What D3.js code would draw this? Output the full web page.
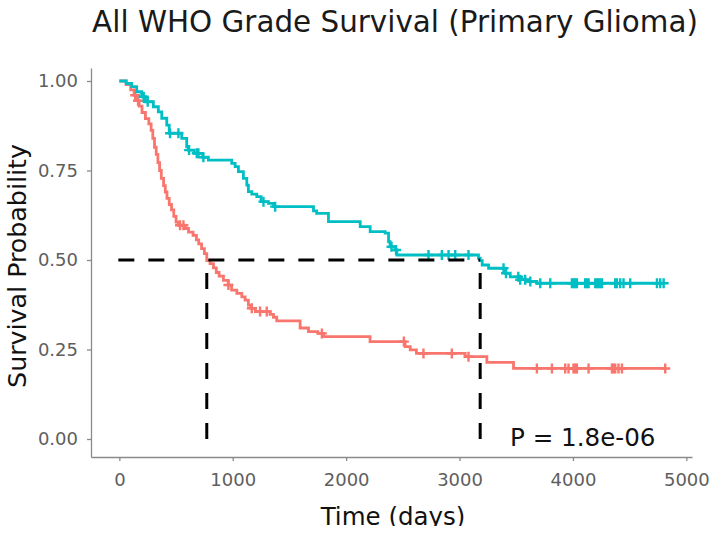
<!DOCTYPE html>
<html>
<head>
<meta charset="utf-8">
<script src="https://cdn.jsdelivr.net/npm/d3@7/dist/d3.min.js"></script>
<style>
  html, body { margin: 0; padding: 0; background: #fff; }
  svg { display: block; font-family: "DejaVu Sans", Verdana, sans-serif; }
</style>
</head>
<body>
<svg id="chart" width="722" height="534"></svg>
<script>
// Kaplan-Meier step estimates, one group per colour
const redTime = [0, 60, 100, 130, 150, 175, 200, 230, 260, 280, 295, 310, 325, 340, 355, 370, 390, 405, 420, 440,
  460, 480, 500, 520, 580, 610, 650, 680, 700, 725, 750, 771, 800, 830, 855, 880, 918, 960, 990, 1036,
  1080, 1109, 1138, 1160, 1200, 1329, 1359, 1388, 1594, 1668, 1750, 1800, 2211, 2520, 2565, 2620, 3050, 3241, 3476];
const redSurv = [1, 0.990, 0.975, 0.960, 0.945, 0.930, 0.912, 0.895, 0.880, 0.862, 0.840, 0.815, 0.795, 0.772, 0.750, 0.728, 0.708, 0.690, 0.672, 0.655,
  0.640, 0.622, 0.606, 0.597, 0.588, 0.578, 0.569, 0.556, 0.545, 0.532, 0.518, 0.498, 0.490, 0.478, 0.465, 0.455, 0.443, 0.430, 0.416, 0.407,
  0.397, 0.388, 0.374, 0.365, 0.356, 0.348, 0.340, 0.330, 0.310, 0.300, 0.295, 0.286, 0.272, 0.258, 0.249, 0.239, 0.230, 0.214, 0.197];
const redEnd = 4814;
const redCensor = [140, 165, 535, 565, 962, 1168, 1241, 1300, 1786, 2509, 2682, 2932, 3079, 3682, 3815, 3932, 3961, 4005,
  4020, 4035, 4138, 4344, 4358, 4373, 4402, 4432, 4814];

const tealTime = [0, 60, 109, 153, 197, 230, 300, 344, 374, 418, 440, 550, 594, 609, 660, 735, 785, 991, 1021, 1050,
  1094, 1124, 1138, 1168, 1212, 1250, 1315, 1360, 1712, 1740, 1844, 2124, 2212, 2344, 2374, 2388, 2432, 2447, 3167, 3182,
  3200, 3256, 3403, 3447, 3530, 3600, 3682];
const tealSurv = [1, 0.993, 0.984, 0.970, 0.956, 0.942, 0.928, 0.914, 0.896, 0.877, 0.854, 0.840, 0.816, 0.807, 0.798, 0.787, 0.779, 0.770, 0.761, 0.747,
  0.728, 0.709, 0.691, 0.684, 0.677, 0.663, 0.658, 0.649, 0.637, 0.630, 0.607, 0.593, 0.579, 0.575, 0.551, 0.537, 0.528, 0.514, 0.505, 0.498,
  0.486, 0.477, 0.463, 0.453, 0.445, 0.440, 0.435];
const tealEnd = 4800;
const tealCensor = [215, 250, 447, 521, 615, 683, 697, 741, 1271, 1374, 2400, 2440, 2726, 2844, 2903, 2962, 3079, 3388, 3410,
  3518, 3535, 3579, 3624, 3712, 3800, 3991, 4005, 4020, 4035, 4108, 4123, 4138, 4197, 4211, 4226, 4241, 4256,
  4373, 4388, 4417, 4446, 4505, 4741, 4770, 4800];

// median survival times (where each curve crosses 0.5)
const medianTimes = [771, 3182];
const medianLevel = 0.5;

const xTicks = [0, 1000, 2000, 3000, 4000, 5000];
const yTicks = [0, 0.25, 0.5, 0.75, 1];

const titleText = "All WHO Grade Survival (Primary Glioma)";
const xTitle = "Time (days)";
const yTitle = "Survival Probability";
const pText = "P = 1.8e-06";

const groups = [
  { time: redTime, surv: redSurv, end: redEnd, censor: redCensor, color: "#F8766D" },
  { time: tealTime, surv: tealSurv, end: tealEnd, censor: tealCensor, color: "#00BFC4" }
];

const svg = d3.select("#chart");

const x = d3.scaleLinear().domain([-250, 5050]).range([91, 692]);
const y = d3.scaleLinear().domain([-0.0503, 1.0363]).range([457, 68]);

// title
svg.append("text")
  .attr("x", 395).attr("y", 32)
  .attr("text-anchor", "middle")
  .attr("font-size", 29.4)
  .attr("fill", "#1a1a1a")
  .text(titleText);

// axes
const axisColor = "#8a8a8a";
const tickTextColor = "#5e5e5e";

const xAxis = svg.append("g")
  .attr("transform", `translate(0,${y.range()[0]})`)
  .call(d3.axisBottom(x).tickValues(xTicks).tickSize(4).tickSizeOuter(0).tickPadding(12).tickFormat(d3.format("d")));
const yAxis = svg.append("g")
  .attr("transform", `translate(${x.range()[0]},0)`)
  .call(d3.axisLeft(y).tickValues(yTicks).tickSize(4).tickSizeOuter(0).tickPadding(9).tickFormat(d3.format(".2f")));

[xAxis, yAxis].forEach(g => {
  g.select(".domain").attr("stroke", axisColor).attr("stroke-width", 1.3);
  g.selectAll(".tick line").attr("stroke", axisColor).attr("stroke-width", 1.3);
  g.selectAll(".tick text").attr("fill", tickTextColor).attr("font-size", 18)
    .attr("font-family", "'DejaVu Sans', Verdana, sans-serif");
});

// axis titles (x title sits at the bottom edge and is cut by it)
svg.append("clipPath").attr("id", "bottomClip")
  .append("rect").attr("x", 0).attr("y", 0).attr("width", 722).attr("height", 526);

svg.append("text")
  .attr("clip-path", "url(#bottomClip)")
  .attr("x", 393).attr("y", 525)
  .attr("text-anchor", "middle")
  .attr("font-size", 24.5)
  .attr("fill", "#111")
  .text(xTitle);

svg.append("text")
  .attr("transform", `translate(26,${266}) rotate(-90)`)
  .attr("text-anchor", "middle")
  .attr("font-size", 25.3)
  .attr("fill", "#111")
  .text(yTitle);

// survival curves
const stepLine = d3.line()
  .x(d => x(d[0]))
  .y(d => y(d[1]))
  .curve(d3.curveStepAfter);

function survivalAt(g, t) {
  const i = d3.bisectRight(g.time, t) - 1;
  return g.surv[Math.max(0, i)];
}

const plot = svg.append("g");

groups.forEach(g => {
  const pts = g.time.map((t, i) => [t, g.surv[i]]);
  pts.push([g.end, g.surv[g.surv.length - 1]]);
  plot.append("path")
    .attr("d", stepLine(pts))
    .attr("fill", "none")
    .attr("stroke", g.color)
    .attr("stroke-width", 2.8)
    .attr("stroke-linejoin", "miter");

  // censoring ticks
  plot.append("g").selectAll("path")
    .data(g.censor)
    .join("path")
    .attr("d", t => {
      const cx = x(t), cy = y(survivalAt(g, t));
      return `M${cx - 5},${cy}h10M${cx},${cy - 5}v10`;
    })
    .attr("fill", "none")
    .attr("stroke", g.color)
    .attr("stroke-width", 2.4);
});

// median reference lines
const dash = "16,14";
const medianG = svg.append("g")
  .attr("stroke", "#000")
  .attr("stroke-width", 3)
  .attr("stroke-dasharray", dash)
  .attr("fill", "none");

medianG.append("line")
  .attr("x1", x(0) - 1).attr("x2", x(d3.max(medianTimes)))
  .attr("y1", y(medianLevel)).attr("y2", y(medianLevel));

medianG.selectAll("line.v")
  .data(medianTimes)
  .join("line")
  .attr("class", "v")
  .attr("x1", d => x(d)).attr("x2", d => x(d))
  .attr("y1", y(0)).attr("y2", y(medianLevel));

// log-rank p-value
svg.append("text")
  .attr("x", 510).attr("y", 446)
  .attr("font-size", 24.6)
  .attr("fill", "#111")
  .text(pText);
</script>
</body>
</html>
